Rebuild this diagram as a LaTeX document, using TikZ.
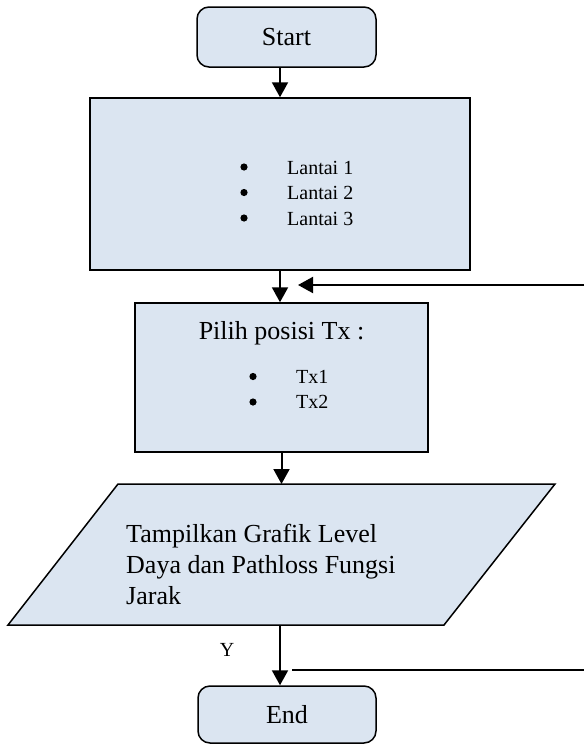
\documentclass[tikz,border=0pt]{standalone}
\usepackage{fontspec}
\setmainfont{Liberation Serif}
\usetikzlibrary{arrows.meta,positioning}
\definecolor{boxblue}{RGB}{219,229,241}
\def\bigfont{\fontsize{26}{31}\selectfont}
\def\smallfont{\fontsize{20}{25.5}\selectfont}
\def\bulletgap{46.5pt}

\begin{document}
\begin{tikzpicture}[x=1pt,y=-1pt,
% Here are defined the boxes, the texts and the arrows
bloc/.style={
rectangle, draw=black, line width=1.5pt,
fill=boxblue, inner sep=0 },
term/.style={
bloc, rounded corners=12pt,
minimum width=179pt, minimum height=60pt,
font=\bigfont },
proc/.style={
bloc },
list/.style={
anchor=base west, inner sep=0, font=\smallfont },
txt/.style={
anchor=base west, inner sep=0, font=\bigfont },
dot/.style={
fill=black },
arr/.style={
line width=2pt, -{Triangle[length=15pt,width=16pt]} },
flow/.style={
line width=2pt },
]
\useasboundingbox (0,0) rectangle (584,744);

%%%%%%%%%%%%%%%%%%%%%%%%
%%% THE BOXES
%%%%%%%%%%%%%%%%%%%%%%%%

% Start
\node[term] (start) at (286.5,37) {Start};

% The floors, 1st the box then the list, then the bullets
\node[proc, minimum width=380pt, minimum height=172pt] (floor) at (280,184) {};
\node[list] (floorlist) at (240.5,174) {\begin{tabular}[t]{@{}l@{}}
\hspace{\bulletgap}Lantai 1\\
\hspace{\bulletgap}Lantai 2\\
\hspace{\bulletgap}Lantai 3\end{tabular}};
\foreach \i in {0,1,2}
  \fill[dot] ([shift={(3.5,-7+25.5*\i)}]floorlist.base west) circle (3.6pt);

% Position of Tx
\node[proc, minimum width=293pt, minimum height=149pt] (tx) at (281.5,377.5) {};
\node[txt, anchor=base] (txtitle) at (281.5,339) {Pilih posisi Tx :};
\node[list] (txlist) at (249.5,383) {\begin{tabular}[t]{@{}l@{}}
\hspace{\bulletgap}Tx1\\
\hspace{\bulletgap}Tx2\end{tabular}};
\foreach \i in {0,1}
  \fill[dot] ([shift={(3.5,-6.5+25.5*\i)}]txlist.base west) circle (3.6pt);

% The output (parallelogram)
\draw[bloc] (8,625) -- (118,484) -- (555,484) -- (444,625) -- cycle;
\coordinate (showtop) at (281.5,484);
\coordinate (showbot) at (280,625);
\node[txt] (showtxt) at (126,542) {\begin{tabular}[t]{@{}l@{}}
Tampilkan Grafik Level\\
Daya dan Pathloss Fungsi\\
Jarak\end{tabular}};

% End
\node[term, minimum width=178pt, minimum height=57pt] (stop) at (287,714.5) {End};
\node[inner sep=0, font=\smallfont] (yes) at (227,650) {Y};

%%%%%%%%%%%%%%%%%%%%%%%%
%%% THE ARROWS
%%%%%%%%%%%%%%%%%%%%%%%%
\draw[arr] (start.south -| floor.north) -- (floor.north);
\draw[arr] (floor.south) -- (floor.south |- tx.north);
\draw[arr] (tx.south) -- (showtop);
\draw[arr] (showbot) -- (showbot |- stop.north);

% The two lines coming back from the right
\coordinate (loopin) at (584,285);
\coordinate (looptip) at (298,285);
\draw[arr] (loopin) -- (looptip);
\coordinate (loopstart) at (292,670);
\coordinate (loopout) at (584,670);
\draw[flow] (loopstart) -- (loopout);

\end{tikzpicture}
\end{document}
